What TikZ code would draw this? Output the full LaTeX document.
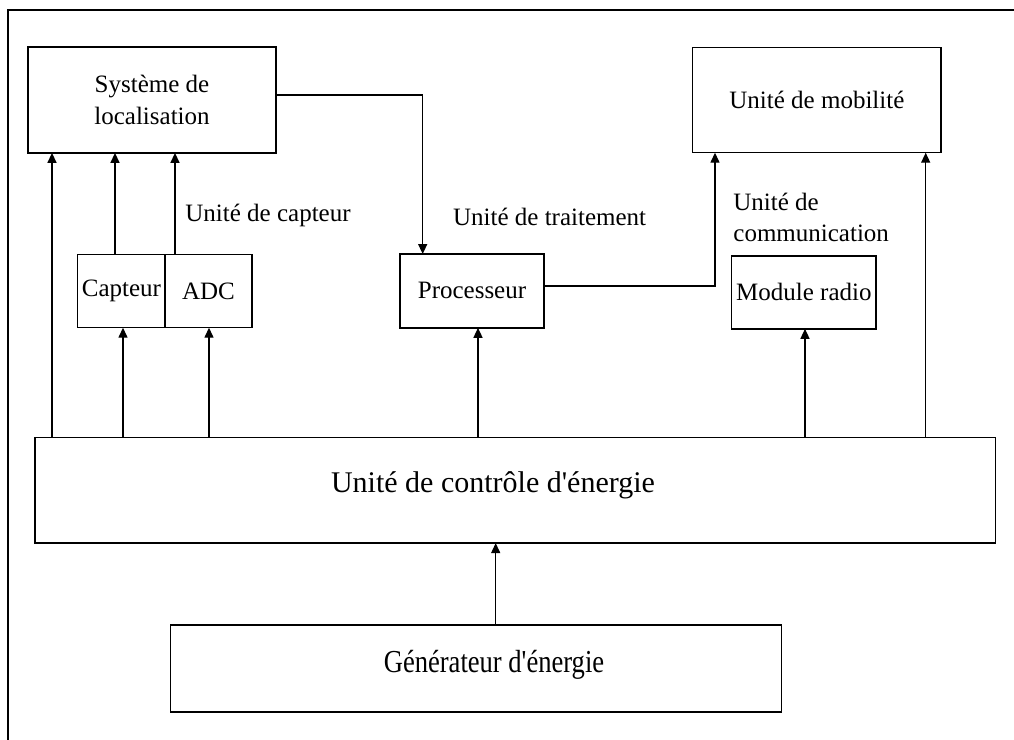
\documentclass[tikz,border=0pt]{standalone}
\usepackage{fontspec}
\usepackage{graphicx}
\setmainfont{Liberation Serif}
\usetikzlibrary{arrows.meta}
\begin{document}
\begin{tikzpicture}[x=0.5pt,y=-0.5pt,
  box/.style={draw,line width=0.75pt,inner sep=0pt,outer sep=0pt,
    font=\fontsize{12.5}{16}\selectfont,align=center},
  lbl/.style={inner sep=0pt,font=\fontsize{12.5}{15.5}\selectfont,align=left},
  link/.style={line width=0.7pt},
  arr/.style={link,-{Triangle[width=4.5pt,length=5pt]}}]
\useasboundingbox (0,0) rectangle (1014,740);

% surrounding frame (open at the right and bottom)
\draw[link] (8,740) -- (8,10) -- (1014,10);

% blocks
\node[box,minimum width=124pt,minimum height=52.9pt] (loc) at (152,100) {Système de\\localisation};
\node[box,minimum width=124.2pt,minimum height=52.5pt] (mob) at (816.9,100.2) {Unité de mobilité};
\node[box,minimum width=43.7pt,minimum height=36.7pt] (cap) at (121.4,291) {Capteur};
\node[box,minimum width=43.5pt,minimum height=36.7pt] (adc) at (208.5,291) {ADC};
\node[box,minimum width=72pt,minimum height=36.9pt] (proc) at (472,290.9) {Processeur};
\node[box,minimum width=72.2pt,minimum height=36.4pt] (radio) at (803.9,292.4) {Module radio};
\node[box,minimum width=480.3pt,minimum height=52.7pt] (energy) at (515.3,490.4) {};
\node[box,minimum width=305.5pt,minimum height=43.5pt] (gen) at (476,668.5) {};

% block titles placed off-centre
\node[lbl,font=\fontsize{15}{18}\selectfont] (energyt) at (493,485) {Unité de contrôle d\textquotesingle énergie};
\node[lbl] (gent) at (494,665) {\fontsize{16}{18}\selectfont\scalebox{0.83}[1]{Générateur d\textquotesingle énergie}};

% unit labels
\node[lbl,anchor=west] (capt) at (185,215) {Unité de capteur};
\node[lbl,anchor=west] (trait) at (452.7,216.7) {Unité de traitement};
\node[lbl,anchor=west] (comm) at (733,217.5) {Unité de\\communication};

% connector columns and rows
\coordinate (cA) at (52,0);
\coordinate (cB) at (115,0);
\coordinate (cC) at (175,0);
\coordinate (cD) at (123,0);
\coordinate (cE) at (209,0);
\coordinate (cF) at (478,0);
\coordinate (cG) at (422.7,0);
\coordinate (cH) at (715,0);
\coordinate (cI) at (805,0);
\coordinate (cJ) at (925.7,0);
\coordinate (cK) at (495.7,0);
\coordinate (rA) at (0,95);
\coordinate (rB) at (0,286);

% connectors
\draw[arr] (energy.north -| cA) -- (loc.south -| cA);
\draw[arr] (cap.north -| cB) -- (loc.south -| cB);
\draw[arr] (adc.north -| cC) -- (loc.south -| cC);
\draw[arr] (energy.north -| cD) -- (cap.south -| cD);
\draw[arr] (energy.north -| cE) -- (adc.south -| cE);
\draw[arr] (energy.north -| cF) -- (proc.south -| cF);
\draw[arr] (loc.east |- rA) -| (proc.north -| cG);
\draw[arr] (proc.east |- rB) -| (mob.south -| cH);
\draw[arr] (energy.north -| cI) -- (radio.south -| cI);
\draw[arr] (energy.north -| cJ) -- (mob.south -| cJ);
\draw[arr] (gen.north -| cK) -- (energy.south -| cK);
\end{tikzpicture}
\end{document}
